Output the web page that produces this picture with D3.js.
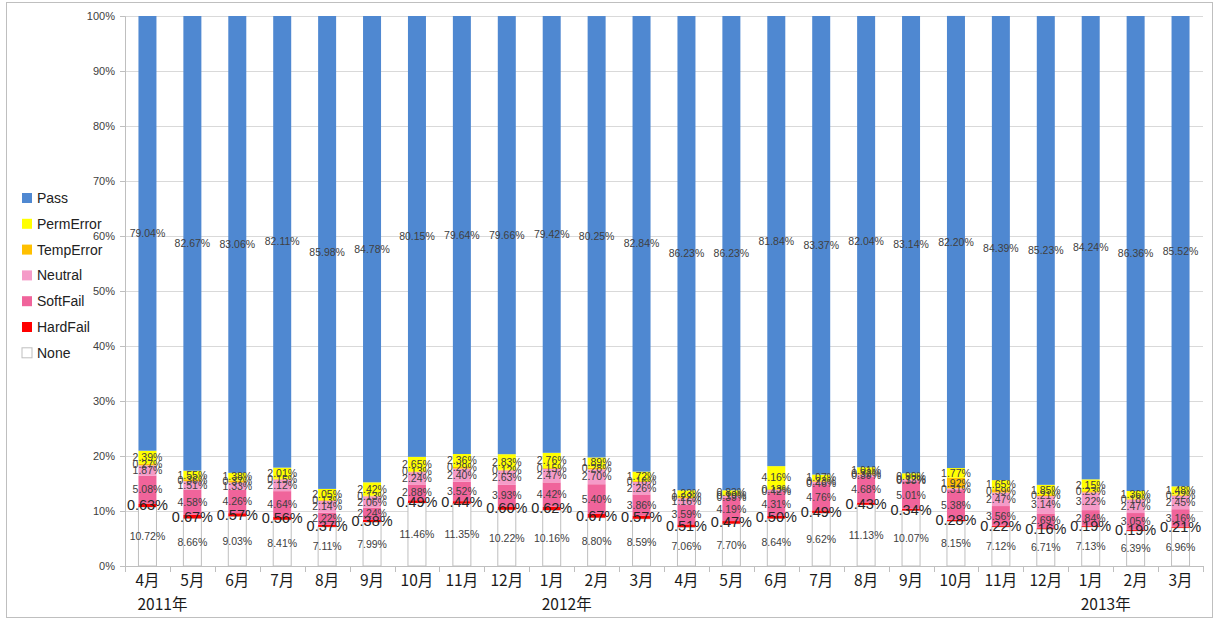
<!DOCTYPE html>
<html>
<head>
<meta charset="utf-8">
<script src="https://cdn.jsdelivr.net/npm/d3@7"></script>
<style>
  body { margin: 0; background: #fff; }
  svg { display: block; font-family: "Liberation Sans", "Noto Sans", sans-serif; }
</style>
</head>
<body>
<svg id="chart" width="1216" height="623"></svg>
<script>
// Categories
const months = ["4月","5月","6月","7月","8月","9月","10月","11月","12月","1月","2月","3月",
                "4月","5月","6月","7月","8月","9月","10月","11月","12月","1月","2月","3月"];
const yearLabels = [{ index: 0, text: "2011年" }, { index: 9, text: "2012年" }, { index: 21, text: "2013年" }];

// Series values (%), bottom to top
const none      = [10.72, 8.66, 9.03, 8.41, 7.11, 7.99, 11.46, 11.35, 10.22, 10.16, 8.80, 8.59, 7.06, 7.70, 8.64, 9.62, 11.13, 10.07, 8.15, 7.12, 6.71, 7.13, 6.39, 6.96];
const hardFail  = [0.63, 0.67, 0.57, 0.56, 0.37, 0.38, 0.49, 0.44, 0.60, 0.62, 0.67, 0.57, 0.51, 0.47, 0.50, 0.49, 0.43, 0.34, 0.28, 0.22, 0.16, 0.19, 0.19, 0.21];
const softFail  = [5.08, 4.58, 4.26, 4.64, 2.22, 2.24, 2.88, 3.52, 3.93, 4.42, 5.40, 3.86, 3.59, 4.19, 4.31, 4.76, 4.68, 5.01, 5.38, 3.56, 2.69, 2.84, 3.05, 3.16];
const neutral   = [1.87, 1.51, 1.33, 2.12, 2.14, 2.06, 2.24, 2.40, 2.63, 2.47, 2.70, 2.26, 1.16, 0.39, 0.42, 0.46, 0.39, 0.33, 0.31, 2.47, 3.14, 3.22, 2.47, 2.45];
const tempError = [0.27, 0.36, 0.37, 0.15, 0.13, 0.13, 0.13, 0.29, 0.12, 0.15, 0.28, 0.16, 0.22, 0.19, 0.13, 0.23, 0.32, 0.12, 1.92, 0.59, 0.21, 0.23, 0.18, 0.22];
const permError = [2.39, 1.55, 1.38, 2.01, 2.05, 2.42, 2.65, 2.36, 2.83, 2.76, 1.89, 1.72, 1.23, 0.83, 4.16, 1.07, 1.01, 0.99, 1.77, 1.65, 1.85, 2.15, 1.36, 1.48];
const pass      = [79.04, 82.67, 83.06, 82.11, 85.98, 84.78, 80.15, 79.64, 79.66, 79.42, 80.25, 82.84, 86.23, 86.23, 81.84, 83.37, 82.04, 83.14, 82.20, 84.39, 85.23, 84.24, 86.36, 85.52];
const yTicks = [0, 10, 20, 30, 40, 50, 60, 70, 80, 90, 100];

const seriesDefs = [
  { key: "None",      values: none,      fill: "#ffffff", stroke: "#bfbfbf" },
  { key: "HardFail",  values: hardFail,  fill: "#ff0000" },
  { key: "SoftFail",  values: softFail,  fill: "#f0649b" },
  { key: "Neutral",   values: neutral,   fill: "#f59bc8" },
  { key: "TempError", values: tempError, fill: "#ffc000" },
  { key: "PermError", values: permError, fill: "#ffff00" },
  { key: "Pass",      values: pass,      fill: "#4f88d1" }
];

const table = months.map((m, i) => {
  const row = { idx: i };
  seriesDefs.forEach(s => { row[s.key] = s.values[i]; });
  return row;
});

const svg = d3.select("#chart");

// Outer frame
svg.append("rect")
  .attr("x", 6.5).attr("y", 2.5)
  .attr("width", 1206).attr("height", 615)
  .attr("fill", "none").attr("stroke", "#bfbfbf");

const margin = { top: 16, left: 125, right: 13, bottom: 57 };
const innerWidth = 1216 - margin.left - margin.right;
const innerHeight = 623 - margin.top - margin.bottom;
const g = svg.append("g").attr("transform", `translate(${margin.left},${margin.top})`);

const xb = d3.scaleBand().domain(d3.range(months.length)).range([0, innerWidth]);
const y = d3.scaleLinear().domain([0, 100]).range([innerHeight, 0]);
const barW = 18;

// Gridlines
g.append("g")
  .selectAll("line")
  .data(yTicks.filter(t => t > 0))
  .join("line")
  .attr("x1", -5).attr("x2", innerWidth)
  .attr("y1", d => y(d) + 0.5).attr("y2", d => y(d) + 0.5)
  .attr("stroke", "#d9d9d9");

// Y axis
const yAxis = g.append("g")
  .call(d3.axisLeft(y).tickValues(yTicks).tickFormat(d => d + "%").tickSize(5));
yAxis.select(".domain").attr("stroke", "#bfbfbf");
yAxis.selectAll(".tick line").attr("stroke", "#bfbfbf");
yAxis.selectAll(".tick text").attr("fill", "#404040").attr("font-size", "11px").attr("x", -10);

// Stacked bars
const stacked = d3.stack().keys(seriesDefs.map(s => s.key))(table);

const layers = g.append("g").selectAll("g")
  .data(stacked)
  .join("g")
  .attr("fill", (d, i) => seriesDefs[i].fill)
  .attr("stroke", (d, i) => seriesDefs[i].stroke || "none");

layers.selectAll("rect")
  .data(d => d)
  .join("rect")
  .attr("x", d => xb(d.data.idx) + (xb.bandwidth() - barW) / 2)
  .attr("width", barW)
  .attr("y", d => y(d[1]))
  .attr("height", d => y(d[0]) - y(d[1]));

// X axis
const xAxisG = g.append("g").attr("transform", `translate(0,${innerHeight})`);
xAxisG.append("line")
  .attr("x1", 0).attr("x2", innerWidth)
  .attr("y1", 0.5).attr("y2", 0.5)
  .attr("stroke", "#bfbfbf");
xAxisG.selectAll(".xtick")
  .data(d3.range(months.length + 1))
  .join("line")
  .attr("class", "xtick")
  .attr("x1", d => Math.round(d * xb.step()) + 0.5)
  .attr("x2", d => Math.round(d * xb.step()) + 0.5)
  .attr("y1", 0).attr("y2", 6)
  .attr("stroke", "#bfbfbf");
xAxisG.selectAll(".mlabel")
  .data(months)
  .join("text")
  .attr("class", "mlabel")
  .attr("x", (d, i) => xb(i) + xb.bandwidth() / 2)
  .attr("y", 20)
  .attr("text-anchor", "middle")
  .attr("font-family", "'Noto Sans CJK JP', sans-serif")
  .attr("font-size", "15.5px")
  .attr("fill", "#1a1a1a")
  .text(d => d);
xAxisG.selectAll(".ylabel")
  .data(yearLabels)
  .join("text")
  .attr("class", "ylabel")
  .attr("x", d => xb(d.index) + xb.bandwidth() / 2 + 15)
  .attr("y", 44)
  .attr("text-anchor", "middle")
  .attr("font-family", "'Noto Sans CJK JP', sans-serif")
  .attr("font-size", "15.5px")
  .attr("fill", "#1a1a1a")
  .text(d => d.text);

// Data labels, centred in each segment
const labelLayer = g.append("g");
stacked.forEach(layer => {
  const isHard = layer.key === "HardFail";
  labelLayer.append("g")
    .selectAll("text")
    .data(layer)
    .join("text")
    .attr("x", d => xb(d.data.idx) + xb.bandwidth() / 2)
    .attr("y", d => y((d[0] + d[1]) / 2))
    .attr("dy", "0.35em")
    .attr("text-anchor", "middle")
    .attr("font-size", isHard ? "14.5px" : "10.5px")
    .attr("fill", isHard ? "#262626" : "#404040")
    .text(d => (d[1] - d[0]).toFixed(2) + "%");
});

// Legend (Pass on top)
const legend = svg.append("g").attr("transform", "translate(22,198)");
const li = legend.selectAll("g")
  .data(seriesDefs.slice().reverse())
  .join("g")
  .attr("transform", (d, i) => `translate(0,${i * 25.8})`);
li.append("rect")
  .attr("x", 0).attr("y", -5)
  .attr("width", 10).attr("height", 10)
  .attr("fill", d => d.fill)
  .attr("stroke", d => d.stroke || "none");
li.append("text")
  .attr("x", 15).attr("y", 0)
  .attr("dy", "0.35em")
  .attr("font-size", "14px")
  .attr("fill", "#222")
  .text(d => d.key);
</script>
</body>
</html>
